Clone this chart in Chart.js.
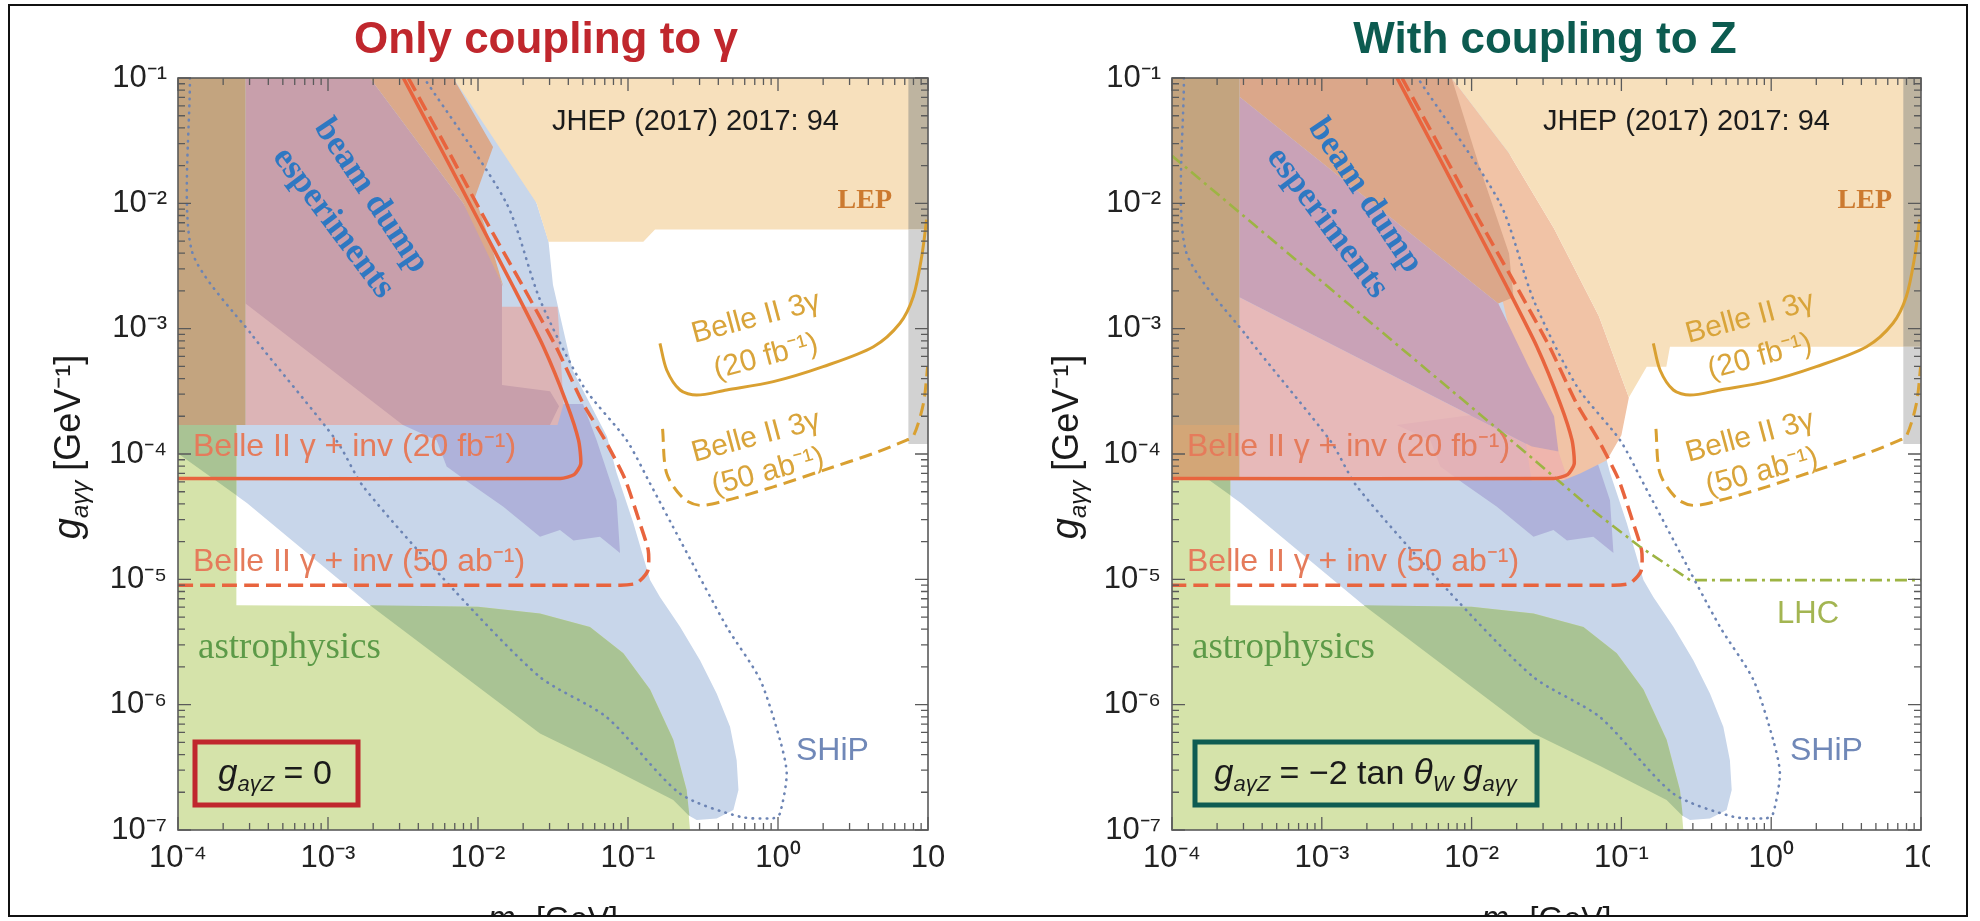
<!DOCTYPE html>
<html>
<head>
<meta charset="utf-8">
<script src="https://cdn.jsdelivr.net/npm/chart.js@4.4.1/dist/chart.umd.min.js"></script>
<style>
  html, body { margin: 0; padding: 0; background: #fff; }
  #wrap { position: relative; width: 1980px; height: 921px; overflow: hidden; background: #fff; }
  #p1 { position: absolute; left: 0; top: 0; width: 990px; height: 921px; }
  #p2 { position: absolute; left: 990px; top: 0; width: 940px; height: 921px; overflow: hidden; }
  #cut { position: absolute; left: 0; top: 917px; width: 1980px; height: 4px; background: #fff; }
  #frame { position: absolute; left: 8px; top: 4px; width: 1960px; height: 913px; border: 2px solid #111; box-sizing: border-box; }
</style>
</head>
<body>
<div id="wrap">
  <div id="p1"><canvas id="c1" width="990" height="921"></canvas></div>
  <div id="p2"><canvas id="c2" width="990" height="921"></canvas></div>
  <div id="cut"></div>
  <div id="frame"></div>
</div>
<script>
const SANS = '"Liberation Sans", Arial, Helvetica, sans-serif';
const SERIF = '"Liberation Serif", "DejaVu Serif", serif';

/* ---------------- AXES ---------------- */

const xMajorTicks = [1e-4, 1e-3, 1e-2, 1e-1, 1, 10];
const xTickLabels = ['10⁻⁴', '10⁻³', '10⁻²', '10⁻¹', '10⁰', '10'];
const yMajorTicks = [1e-7, 1e-6, 1e-5, 1e-4, 1e-3, 1e-2, 1e-1];
const yTickLabels = ['10⁻⁷', '10⁻⁶', '10⁻⁵', '10⁻⁴', '10⁻³', '10⁻²', '10⁻¹'];
const minorSteps = [2, 3, 4, 5, 6, 7, 8, 9];

/* ---------------- REGIONS [m_a (GeV), g_agg (1/GeV)] ---------------- */

const beamDumpBlue = [
  [1e-4, 0.1], [1e-2, 0.1], [1.585e-2, 3.548e-2], [2.46e-2, 1e-2], [2.95e-2, 5.01e-3],
  [3.16e-2, 2.24e-3], [4.27e-2, 4.68e-4], [7.24e-2, 1.38e-4], [8.39e-2, 7.08e-5],
  [0.1086, 2.82e-5], [0.1403, 9.86e-6], [0.1633, 7.24e-6], [0.2223, 4.18e-6],
  [0.302, 2.26e-6], [0.390, 1.23e-6], [0.479, 6.65e-7], [0.530, 3.61e-7],
  [0.545, 2.09e-7], [0.504, 1.445e-7], [0.390, 1.236e-7], [0.287, 1.202e-7],
  [0.259, 1.288e-7], [0.2004, 1.738e-7], [7.21e-2, 3.24e-7], [2.59e-2, 5.89e-7],
  [1.905e-3, 6.22e-6], [2.88e-4, 4.07e-5], [1e-4, 1.01e-4]
];

const lavenderRegion = [
  [3.16e-3, 1.70e-4], [3.55e-2, 2.51e-4], [5.01e-2, 2.51e-4], [6.18e-2, 1.29e-4],
  [8.39e-2, 4.27e-5], [8.85e-2, 1.62e-5], [6.50e-2, 2.19e-5], [4.33e-2, 2.04e-5],
  [3.52e-2, 2.47e-5], [2.59e-2, 2.19e-5], [1.476e-2, 3.80e-5], [8.85e-3, 5.82e-5],
  [6.18e-3, 7.94e-5], [5.30e-3, 1.29e-4]
];

const astroGreen = [
  [1e-4, 1.70e-4], [2.45e-4, 1.70e-4], [2.45e-4, 6.22e-6], [1e-2, 6.03e-6],
  [2.59e-2, 5.35e-6], [5.58e-2, 4.17e-6], [9.31e-2, 2.57e-6], [0.1403, 1.32e-6],
  [0.2004, 5.25e-7], [0.246, 2.09e-7], [0.259, 1e-7], [1e-4, 1e-7]
];

const astroOverlap = [
  [1.905e-3, 6.22e-6], [1e-2, 6.03e-6], [2.59e-2, 5.35e-6], [5.58e-2, 4.17e-6],
  [9.31e-2, 2.57e-6], [0.1403, 1.32e-6], [0.2004, 5.25e-7], [0.246, 2.09e-7],
  [0.257, 1.288e-7], [0.2004, 1.738e-7], [7.21e-2, 3.24e-7], [2.59e-2, 5.89e-7]
];

const astroOverlapStrip = [
  [1e-4, 1.70e-4], [2.45e-4, 1.70e-4], [2.45e-4, 4.68e-5], [1e-4, 1.01e-4]
];

const lightPinkLeft = [
  [2.82e-4, 1.585e-3], [2.82e-4, 1.70e-4], [3.39e-2, 1.70e-4], [3.72e-2, 2.51e-4],
  [3.39e-2, 1.496e-3], [1.445e-2, 1.496e-3]
];

const pinkLeft = [
  [2.82e-4, 0.1], [1.905e-3, 0.1], [7.98e-3, 1e-2], [1.26e-2, 3.98e-3],
  [1.445e-2, 2.24e-3], [1.445e-2, 3.55e-4], [3.02e-2, 3.16e-4], [3.47e-2, 2.40e-4],
  [3.02e-2, 1.70e-4], [3.16e-3, 1.70e-4], [2.82e-4, 1.585e-3]
];

const orangeBandLeft = [
  [1.905e-3, 0.1], [6.84e-3, 0.1], [1.26e-2, 2.82e-2], [9.55e-3, 1.12e-2],
  [1.20e-2, 5.01e-3], [1.476e-2, 2.16e-3], [7.98e-3, 1e-2]
];

const lepLeft = [
  [6.84e-3, 0.1], [10, 0.1], [10, 6.19e-3], [0.1514, 6.19e-3], [0.1265, 4.94e-3],
  [2.95e-2, 4.94e-3], [2.46e-2, 1e-2]
];

const brownStrip = [[1e-4, 0.1], [2.82e-4, 0.1], [2.82e-4, 1.70e-4], [1e-4, 1.70e-4]];

const grayUpperLeft = [[7.40, 0.1], [10, 0.1], [10, 6.19e-3], [7.40, 6.19e-3]];
const grayLowerLeft = [[7.40, 6.19e-3], [10, 6.19e-3], [10, 1.20e-4], [7.40, 1.20e-4]];

// right panel (with Z coupling)
const lightPinkRight = [
  [2.82e-4, 1.778e-3], [2.52e-2, 1.148e-4], [3.80e-2, 1.047e-4], [4.37e-2, 6.31e-5],
  [2.82e-4, 6.31e-5]
];

const mauveRight = [
  [2.82e-4, 7.08e-2], [1.507e-2, 1.585e-3], [2.40e-2, 5.01e-4], [3.55e-2, 2.0e-4],
  [3.80e-2, 1.047e-4], [2.52e-2, 1.148e-4], [2.82e-4, 1.778e-3]
];

const peachRight = [
  [7.36e-3, 0.1], [1.778e-2, 2.51e-2], [3.55e-2, 6.31e-3], [7.08e-2, 1.259e-3],
  [0.1122, 2.82e-4], [0.1, 1.413e-4], [8.0e-2, 8.91e-5], [5.30e-2, 7.0e-5],
  [4.10e-2, 6.17e-5], [2.51e-2, 6.17e-5], [1.778e-2, 1e-3]
];

const orangeBandRight = [
  [2.82e-4, 0.1], [7.36e-3, 0.1], [1.122e-2, 2.0e-2], [1.778e-2, 3.98e-3],
  [1.905e-2, 1.778e-3], [1.507e-2, 1.585e-3], [2.82e-4, 7.08e-2]
];

const lepRight = [
  [7.36e-3, 0.1], [10, 0.1], [10, 7.18e-4], [0.2109, 7.18e-4], [0.1995, 4.97e-4],
  [0.1476, 4.97e-4], [0.1122, 2.82e-4], [7.08e-2, 1.259e-3], [3.55e-2, 6.31e-3],
  [1.778e-2, 2.51e-2]
];

const brownStripLowRight = [[1e-4, 1.70e-4], [2.82e-4, 1.70e-4], [2.82e-4, 6.38e-5], [1e-4, 6.38e-5]];

const grayUpperRight = [[7.62, 0.1], [10, 0.1], [10, 7.18e-4], [7.62, 7.18e-4]];
const grayLowerRight = [[7.62, 7.18e-4], [10, 7.18e-4], [10, 1.20e-4], [7.62, 1.20e-4]];

/* ---------------- CURVES ---------------- */

const belleInv20 = [
  [1e-4, 6.38e-5], [3.55e-2, 6.38e-5], [4.37e-2, 6.84e-5], [4.84e-2, 8.32e-5],
  [4.68e-2, 1.29e-4], [3.90e-2, 2.54e-4], [2.73e-2, 7.18e-4], [1.718e-2, 2.16e-3],
  [1.005e-2, 7.36e-3], [5.87e-3, 2.51e-2], [3.18e-3, 0.1]
];

const belleInv50 = [
  [3.43e-3, 0.1], [6.46e-3, 2.51e-2], [1.122e-2, 7.36e-3], [2.00e-2, 2.16e-3],
  [3.31e-2, 7.18e-4], [5.01e-2, 2.54e-4], [7.03e-2, 1.29e-4], [9.55e-2, 6.31e-5],
  [0.1202, 2.79e-5], [0.1365, 1.70e-5], [0.1355, 1.175e-5], [0.1148, 9.33e-6],
  [8.91e-2, 8.99e-6], [1e-4, 8.99e-6]
];

const shipDotted = [
  [1.20e-4, 0.1], [1.23e-4, 4.27e-3], [3.16e-4, 8.71e-4], [1.148e-3, 1.26e-4],
  [1.718e-3, 5.50e-5], [6.92e-3, 8.20e-6], [2.59e-2, 1.66e-6], [7.21e-2, 7.94e-7],
  [0.2223, 1.95e-7], [0.558, 1.276e-7], [0.931, 1.242e-7], [1.03, 1.355e-7],
  [1.143, 2.82e-7], [1.03, 5.25e-7], [0.759, 1.585e-6], [0.455, 4.18e-6],
  [0.2223, 2.06e-5], [0.1403, 5.82e-5], [9.79e-2, 1.29e-4], [5.04e-2, 3.47e-4],
  [2.59e-2, 1.70e-3], [1.549e-2, 1e-2], [4.37e-3, 0.1]
];

const belle3g20 = [
  [0.1633, 7.64e-4], [0.1811, 4.68e-4], [0.2223, 3.24e-4], [0.287, 2.95e-4],
  [0.455, 3.24e-4], [0.931, 3.78e-4], [2.00, 4.98e-4], [4.33, 7.18e-4],
  [6.50, 1.104e-3], [7.98, 1.803e-3], [9.08, 3.76e-3], [9.79, 7.41e-3]
];

const belle3g50 = [
  [0.170, 1.585e-4], [0.1811, 7.00e-5], [0.2339, 4.42e-5], [0.302, 3.89e-5],
  [0.455, 4.27e-5], [0.931, 5.47e-5], [2.00, 7.41e-5], [4.33, 1.01e-4],
  [7.21, 1.29e-4], [7.98, 1.38e-4], [9.31, 2.51e-4], [9.95, 5.01e-4]
];

const lhcLine = [
  [1e-4, 2.40e-2], [1.222e-4, 1.959e-2], [2.52e-2, 9.33e-5], [6.84e-2, 3.36e-5],
  [0.133, 1.82e-5], [0.287, 9.86e-6], [10, 9.86e-6]
];

/* ---------------- DATASET HELPERS ---------------- */

function pts(list) {
  return list.map(p => ({ x: p[0], y: p[1] }));
}

function area(list, color) {
  return { data: pts(list), fill: 'shape', backgroundColor: color, borderWidth: 0, pointRadius: 0, tension: 0 };
}

function curve(list, color, width, dash, tension, cap) {
  return {
    data: pts(list), fill: false, borderColor: color, borderWidth: width, borderDash: dash,
    pointRadius: 0, tension: tension, borderCapStyle: cap || 'butt', borderJoinStyle: 'round'
  };
}

const RED = '#e8643e';
const GOLD = '#d9a031';
const SHIP_BLUE = '#6c84b4';

function commonCurves() {
  return [
    curve(shipDotted, SHIP_BLUE, 2.6, [0.5, 6.5], 0.25, 'round'),
    curve(belleInv50, RED, 3.5, [15, 7], 0.2),
    curve(belleInv20, RED, 3.5, [], 0.2),
    curve(belle3g20, GOLD, 3, [], 0.3),
    curve(belle3g50, GOLD, 3, [13, 7], 0.3)
  ];
}

const leftLayers = [
  area(beamDumpBlue, '#c8d6ea'),
  area(lavenderRegion, '#afb2da'),
  area(astroGreen, '#d5e3aa'),
  area(astroOverlap, '#a9c394'),
  area(astroOverlapStrip, '#a9c394'),
  area(lightPinkLeft, '#dcb4b6'),
  area(pinkLeft, '#c89fab'),
  area(orangeBandLeft, '#dba98b'),
  area(lepLeft, '#f7e0bc'),
  area(brownStrip, '#c3a47f'),
  area(grayUpperLeft, '#beb4a0'),
  area(grayLowerLeft, '#d2d2d2'),
  ...commonCurves()
];

const rightLayers = [
  area(beamDumpBlue, '#c8d6ea'),
  area(lavenderRegion, '#afb2da'),
  area(astroGreen, '#d5e3aa'),
  area(astroOverlap, '#a9c394'),
  area(astroOverlapStrip, '#a9c394'),
  area(peachRight, '#f1c3a6'),
  area(lightPinkRight, 'rgba(238,178,174,0.82)'),
  area(mauveRight, '#c9a2b7'),
  area(orangeBandRight, '#dba78a'),
  area(lepRight, '#f7e0bc'),
  area(brownStrip, '#c3a47f'),
  area(brownStripLowRight, '#d3a677'),
  area(grayUpperRight, '#beb4a0'),
  area(grayLowerRight, '#d2d2d2'),
  curve(lhcLine, '#9db443', 2.6, [12, 5, 3, 5], 0),
  ...commonCurves()
];

/* ---------------- ANNOTATIONS ---------------- */

function drawRich(ctx, parts, x, y, align) {
  let w = 0;
  parts.forEach(p => { ctx.font = p.font; w += ctx.measureText(p.t).width; });
  let cx = align === 'center' ? x - w / 2 : x;
  ctx.textAlign = 'left';
  parts.forEach(p => {
    ctx.font = p.font;
    ctx.fillText(p.t, cx, y + (p.dy || 0));
    cx += ctx.measureText(p.t).width;
  });
}

function drawFrame(chart) {
  const { ctx, chartArea: a, scales: { x, y } } = chart;
  ctx.save();
  ctx.strokeStyle = '#5a5a5a';
  ctx.lineWidth = 1.3;
  ctx.beginPath();
  xMajorTicks.forEach((v, i) => {
    const list = [v].concat(i < xMajorTicks.length - 1 ? minorSteps.map(k => k * v) : []);
    list.forEach((t, j) => {
      const px = x.getPixelForValue(t), len = j === 0 ? 13 : 7;
      ctx.moveTo(px, a.bottom); ctx.lineTo(px, a.bottom - len);
      ctx.moveTo(px, a.top); ctx.lineTo(px, a.top + len);
    });
  });
  yMajorTicks.forEach((v, i) => {
    const list = [v].concat(i < yMajorTicks.length - 1 ? minorSteps.map(k => k * v) : []);
    list.forEach((t, j) => {
      const py = y.getPixelForValue(t), len = j === 0 ? 13 : 7;
      ctx.moveTo(a.left, py); ctx.lineTo(a.left + len, py);
      ctx.moveTo(a.right, py); ctx.lineTo(a.right - len, py);
    });
  });
  ctx.stroke();
  ctx.lineWidth = 1.6;
  ctx.strokeRect(a.left, a.top, a.right - a.left, a.bottom - a.top);
  ctx.restore();
}

const annotPlugin = {
  id: 'annot',
  afterDatasetsDraw(chart, args, o) {
    const ctx = chart.ctx, a = chart.chartArea;
    drawFrame(chart);
    ctx.save();
    o.texts.forEach(t => {
      ctx.save();
      ctx.translate(a.left + t.dx, a.top + t.dy);
      if (t.rot) ctx.rotate(t.rot * Math.PI / 180);
      ctx.font = t.font;
      ctx.fillStyle = t.color;
      ctx.textAlign = t.align || 'left';
      ctx.textBaseline = t.base || 'alphabetic';
      ctx.fillText(t.t, 0, 0);
      ctx.restore();
    });
    const b = o.box;
    ctx.strokeStyle = b.color;
    ctx.lineWidth = 5;
    ctx.strokeRect(a.left + b.dx, a.top + b.dy, b.w, b.h);
    ctx.fillStyle = '#1a1a1a';
    ctx.textBaseline = 'alphabetic';
    drawRich(ctx, b.parts, a.left + b.tx, a.top + b.ty, 'left');
    ctx.restore();
  },
  afterDraw(chart, args, o) {
    const ctx = chart.ctx, a = chart.chartArea;
    ctx.save();
    ctx.fillStyle = o.titleColor;
    ctx.font = `bold 44px ${SANS}`;
    ctx.textAlign = 'center';
    ctx.textBaseline = 'alphabetic';
    ctx.fillText(o.title, o.titleX, 53);
    ctx.fillStyle = '#1a1a1a';
    // y axis title
    ctx.save();
    ctx.translate(o.yTitleX, 447);
    ctx.rotate(-Math.PI / 2);
    drawRich(ctx, [
      { t: 'g', font: `italic 38px ${SANS}` },
      { t: 'aγγ', font: `italic 24px ${SANS}`, dy: 8 },
      { t: ' [GeV⁻¹]', font: `36px ${SANS}` }
    ], 0, 0, 'center');
    ctx.restore();
    // x axis title (cut by the picture edge)
    drawRich(ctx, [
      { t: 'm', font: `italic 33px ${SANS}` },
      { t: 'a', font: `italic 21px ${SANS}`, dy: 7 },
      { t: ' [GeV]', font: `32px ${SANS}` }
    ], (a.left + a.right) / 2, 929, 'center');
    ctx.restore();
  }
};

function panelTexts(dxJ, dxL, withLHC) {
  const invFont = `32px ${SANS}`;
  const g3Font = `30px ${SANS}`;
  const list = [
    { t: 'JHEP (2017) 2017: 94', dx: dxJ, dy: 52, font: `29px ${SANS}`, color: '#1b1b1b' },
    { t: 'LEP', dx: dxL, dy: 130, font: `bold 28px ${SERIF}`, color: '#cc7a30', align: 'right' },
    { t: 'beam dump', dx: 193, dy: 118, font: `bold 35px ${SERIF}`, color: '#2e78c2', align: 'center', base: 'middle', rot: 56 },
    { t: 'esperiments', dx: 155, dy: 145, font: `bold 35px ${SERIF}`, color: '#2e78c2', align: 'center', base: 'middle', rot: 53 },
    { t: 'Belle II γ + inv (20 fb⁻¹)', dx: 15, dy: 378, font: invFont, color: '#e57b5b' },
    { t: 'Belle II γ + inv (50 ab⁻¹)', dx: 15, dy: 493, font: invFont, color: '#e57b5b' },
    { t: 'Belle II 3γ', dx: 578, dy: 240, font: g3Font, color: '#d9a43a', align: 'center', base: 'middle', rot: -15 },
    { t: '(20 fb⁻¹)', dx: 588, dy: 279, font: g3Font, color: '#d9a43a', align: 'center', base: 'middle', rot: -15 },
    { t: 'Belle II 3γ', dx: 578, dy: 359, font: g3Font, color: '#d9a43a', align: 'center', base: 'middle', rot: -15 },
    { t: '(50 ab⁻¹)', dx: 590, dy: 394, font: g3Font, color: '#d9a43a', align: 'center', base: 'middle', rot: -15 },
    { t: 'astrophysics', dx: 20, dy: 580, font: `37px ${SERIF}`, color: '#5c9a48' },
    { t: 'SHiP', dx: 618, dy: 682, font: `32px ${SANS}`, color: '#7088b8' }
  ];
  if (withLHC) list.push({ t: 'LHC', dx: 605, dy: 545, font: `31px ${SANS}`, color: '#a3b552' });
  return list;
}

const gIt = `italic 35px ${SANS}`;
const subIt = `italic 22px ${SANS}`;
const reg = `34px ${SANS}`;

/* ---------------- CHARTS ---------------- */

function buildChart(canvasId, layers, yWidth, padRight, annot) {
  return new Chart(document.getElementById(canvasId), {
    type: 'line',
    data: { datasets: layers.map((d, i) => Object.assign(d, { order: -i })) },
    options: {
      responsive: false,
      animation: false,
      events: [],
      layout: { padding: { top: 78, right: padRight, left: 0, bottom: 0 } },
      plugins: { legend: { display: false }, tooltip: { enabled: false }, annot: annot },
      scales: {
        x: {
          type: 'logarithmic', min: 1e-4, max: 10, position: 'bottom',
          afterFit: s => { s.height = 91; },
          afterBuildTicks: s => { s.ticks = xMajorTicks.map(v => ({ value: v })); },
          ticks: {
            callback: v => xTickLabels[xMajorTicks.indexOf(v)],
            autoSkip: false, maxRotation: 0, minRotation: 0, padding: 10,
            font: { family: SANS, size: 31 }, color: '#222'
          },
          grid: { display: false, drawTicks: false },
          border: { display: false }
        },
        y: {
          type: 'logarithmic', min: 1e-7, max: 1e-1, position: 'left',
          afterFit: s => { s.width = yWidth; },
          afterBuildTicks: s => { s.ticks = yMajorTicks.map(v => ({ value: v })); },
          ticks: {
            callback: v => yTickLabels[yMajorTicks.indexOf(v)],
            autoSkip: false, padding: 11,
            font: { family: SANS, size: 31 }, color: '#222'
          },
          grid: { display: false, drawTicks: false },
          border: { display: false }
        }
      }
    },
    plugins: [annotPlugin]
  });
}

buildChart('c1', leftLayers, 178, 62, {
  title: 'Only coupling to γ', titleColor: '#c0272d', titleX: 546, yTitleX: 80,
  texts: panelTexts(374, 714, false),
  box: {
    color: '#c0272d', dx: 17, dy: 664, w: 163, h: 63, tx: 40, ty: 706,
    parts: [
      { t: 'g', font: gIt }, { t: 'aγZ', font: subIt, dy: 7 }, { t: ' = 0', font: reg }
    ]
  }
});

buildChart('c2', rightLayers, 182, 59, {
  title: 'With coupling to Z', titleColor: '#0c5b50', titleX: 555, yTitleX: 88,
  texts: panelTexts(371, 720, true),
  box: {
    color: '#0e5c52', dx: 23, dy: 664, w: 342, h: 63, tx: 42, ty: 706,
    parts: [
      { t: 'g', font: gIt }, { t: 'aγZ', font: subIt, dy: 7 }, { t: ' = −2 tan ', font: reg },
      { t: 'θ', font: gIt }, { t: 'W', font: subIt, dy: 7 }, { t: ' ', font: reg },
      { t: 'g', font: gIt }, { t: 'aγγ', font: subIt, dy: 7 }
    ]
  }
});
</script>
</body>
</html>
